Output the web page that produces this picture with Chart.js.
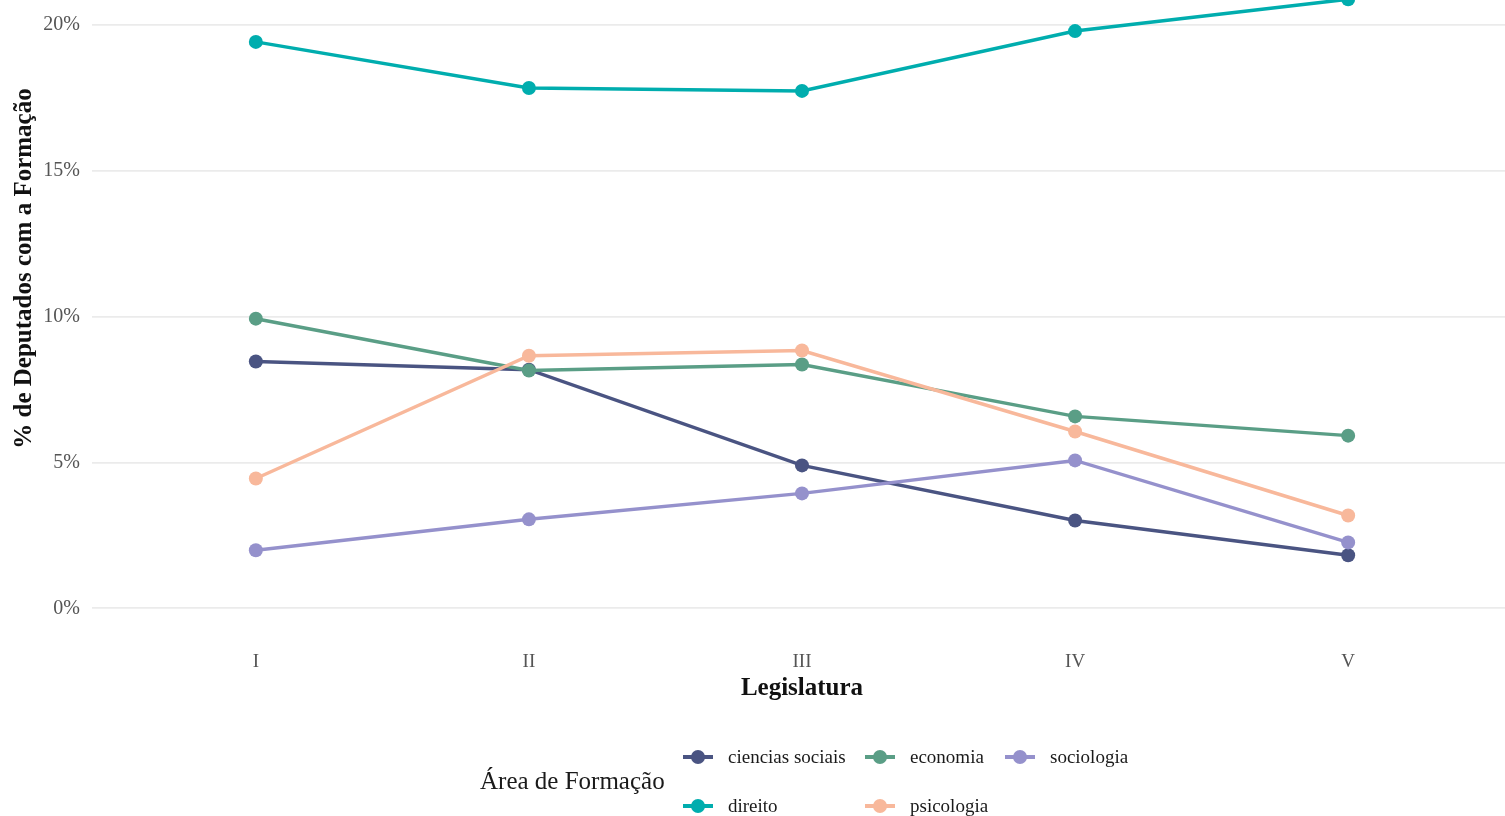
<!DOCTYPE html>
<html>
<head>
<meta charset="utf-8">
<script src="https://cdn.jsdelivr.net/npm/chart.js@4.4.0/dist/chart.umd.min.js"></script>
<style>
  html, body { margin: 0; padding: 0; background: #fff; overflow: hidden; width: 1505px; height: 816px; }
  #wrap { position: absolute; left: 0; top: -123px; width: 1520px; height: 939px; }
  #legend { position: absolute; left: 0; top: 0; width: 1505px; height: 816px; pointer-events: none;
            font-family: 'Liberation Serif', 'DejaVu Serif', serif; color: #1a1a1a; }
  .lg-title { position: absolute; left: 480px; top: 766px; font-size: 25px; line-height: 30px; }
  .lg-item { position: absolute; height: 24px; display: flex; align-items: center; font-size: 19px; }
  .lg-key { position: relative; width: 30px; height: 24px; margin-right: 15px; }
  .lg-key .ln { position: absolute; left: 0; right: 0; top: 10px; height: 4px; }
  .lg-key .pt { position: absolute; left: 8px; top: 5px; width: 14px; height: 14px; border-radius: 50%; }
</style>
</head>
<body>
<div id="wrap"><canvas id="chart" width="1520" height="939"></canvas></div>
<div id="legend"></div>
<script>
// categories and tick labels
const legislaturas = ['I', 'II', 'III', 'IV', 'V'];
const yTicks = [0, 5, 10, 15, 20];

// % de deputados por area de formacao
const cienciasSociais = [8.46, 8.18, 4.90, 3.01, 1.82];
const direito = [19.42, 17.84, 17.74, 19.79, 20.88];
const economia = [9.93, 8.15, 8.36, 6.58, 5.92];
const psicologia = [4.45, 8.66, 8.84, 6.06, 3.18];
const sociologia = [1.99, 3.05, 3.94, 5.07, 2.26];

const areas = ['ciencias sociais', 'direito', 'economia', 'psicologia', 'sociologia'];
const seriesValues = [cienciasSociais, direito, economia, psicologia, sociologia];
const colors = ['#4a5482', '#00adae', '#5a9e86', '#f8b89b', '#9591cc'];

const serif = "'Liberation Serif', 'DejaVu Serif', serif";

const datasets = areas.map((name, i) => ({
  label: name,
  data: seriesValues[i].map((v, j) => ({ x: j, y: v })),
  borderColor: colors[i],
  backgroundColor: colors[i],
  borderWidth: 3.5,
  pointRadius: 7,
  pointHoverRadius: 7,
  pointBorderWidth: 0,
  tension: 0,
  order: areas.length - i
}));

new Chart(document.getElementById('chart'), {
  type: 'line',
  data: { datasets },
  options: {
    responsive: false,
    devicePixelRatio: 1,
    animation: false,
    layout: { autoPadding: false, padding: { left: 0, right: 8, top: 0, bottom: 110 } },
    plugins: { legend: { display: false }, tooltip: { enabled: false } },
    scales: {
      x: {
        type: 'linear',
        min: -0.6,
        max: 4.6,
        grid: { display: false },
        border: { display: false },
        afterBuildTicks: s => { s.ticks = legislaturas.map((_, i) => ({ value: i })); },
        afterFit: s => { s.height = 70; },
        ticks: {
          padding: 7,
          color: '#555',
          font: { family: serif, size: 19 },
          callback: v => legislaturas[v]
        },
        title: {
          display: true,
          text: 'Legislatura',
          color: '#111',
          font: { family: serif, size: 25, weight: 'bold' },
          padding: { top: 0, bottom: 2 }
        }
      },
      y: {
        min: -0.95,
        max: 24.25,
        grid: { color: '#ebebeb', lineWidth: 1.8, drawTicks: false },
        border: { display: false },
        afterBuildTicks: s => { s.ticks = yTicks.map(v => ({ value: v })); },
        afterFit: s => { s.width = 92; },
        ticks: {
          padding: 12,
          color: '#555',
          font: { family: serif, size: 20 },
          callback: v => v + '%'
        },
        title: {
          display: true,
          text: '% de Deputados com a Formação',
          color: '#111',
          font: { family: serif, size: 25, weight: 'bold' },
          padding: { top: 10, bottom: 0 }
        }
      }
    }
  }
});

// legend, filled column by column like the original (2 rows)
const legend = document.getElementById('legend');
const title = document.createElement('div');
title.className = 'lg-title';
title.textContent = 'Área de Formação';
legend.appendChild(title);

const colX = [683, 865, 1005];
const rowY = [745, 794];
areas.forEach((name, i) => {
  const item = document.createElement('div');
  item.className = 'lg-item';
  item.style.left = colX[Math.floor(i / 2)] + 'px';
  item.style.top = rowY[i % 2] + 'px';
  item.innerHTML = '<div class="lg-key"><div class="ln" style="background:' + colors[i] +
    '"></div><div class="pt" style="background:' + colors[i] + '"></div></div><span>' + name + '</span>';
  legend.appendChild(item);
});
</script>
</body>
</html>
